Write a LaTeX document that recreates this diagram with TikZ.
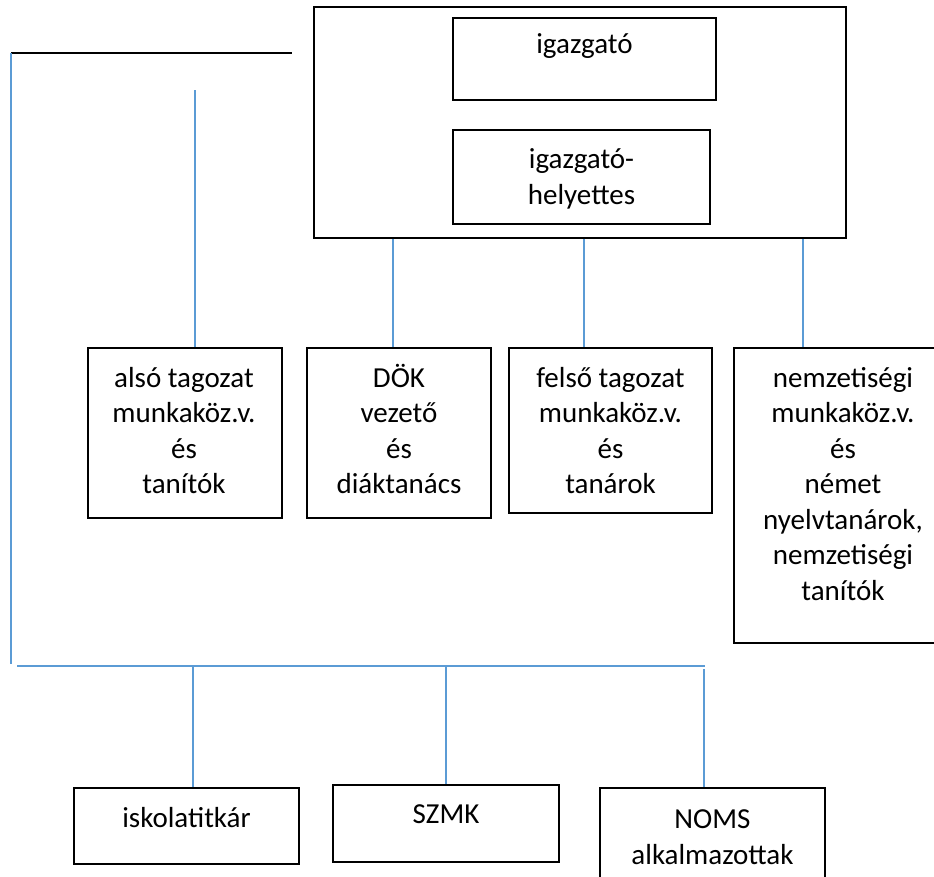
\documentclass[tikz,border=0pt]{standalone}
\usepackage{fontspec}
\setmainfont{Carlito}
\definecolor{linkblue}{RGB}{91,155,213}
\usetikzlibrary{calc}

\begin{document}
\begin{tikzpicture}[x=1pt,y=-1pt,
    box/.style={draw=black, line width=1.8pt, inner sep=0pt},
    txt/.style={anchor=base, align=center, inner sep=0pt,
      font=\fontsize{29}{35.5}\selectfont},
    link/.style={draw=linkblue, line width=1.6pt}]
  \useasboundingbox (0,0) rectangle (934,876);
  \clip (0,0) rectangle (934,876);

  % vezetes (txt nodes sit on the baseline of their last line)
  \node[box, minimum width=532, minimum height=231] (vez) at (580,122.5) {};
  \node[box, minimum width=263, minimum height=82] (igazg) at (584.5,59) {};
  \node[txt] (igazgt) at (584.5,53) {igazgató};
  \node[box, minimum width=257, minimum height=94] (helyt) at (581.5,177) {};
  \node[txt] (helytt) at (581.5,204) {igazgató-\\helyettes};

  % kozepso sor
  \node[box, minimum width=194, minimum height=170] (also) at (185,433) {};
  \node[txt] (alsot) at (184,493.5) {alsó tagozat\\munkaköz.v.\\és\\tanítók};
  \node[box, minimum width=184, minimum height=170] (dok) at (399,433) {};
  \node[txt] (dokt) at (399,493.5) {DÖK\\vezető\\és\\diáktanács};
  \node[box, minimum width=203, minimum height=165] (felso) at (610.5,430.5) {};
  \node[txt] (felsot) at (610.5,493.5) {felső tagozat\\munkaköz.v.\\és\\tanárok};
  \node[box, minimum width=218, minimum height=295] (nemz) at (843,495.5) {};
  \node[txt] (nemzt) at (843,600) {nemzetiségi\\munkaköz.v.\\és\\német\\nyelvtanárok,\\nemzetiségi\\tanítók};

  % also sor
  \node[box, minimum width=225, minimum height=76] (titkar) at (186.5,826) {};
  \node[txt] (titkart) at (186.5,827) {iskolatitkár};
  \node[box, minimum width=226, minimum height=77] (szmk) at (446,823.5) {};
  \node[txt] (szmkt) at (446,823) {SZMK};
  \node[box, minimum width=225, minimum height=112] (noms) at (712.5,844) {};
  \node[txt] (nomst) at (712.5,864) {NOMS\\alkalmazottak};

  % szabad vegpontok
  \coordinate (tl) at (11,53);
  \coordinate (tr) at (292,53);
  \coordinate (bl) at (11,664);
  \coordinate (brl) at (17,666);
  \coordinate (br) at (705,666);
  \coordinate (mid) at (195,90);

  \draw[line width=1.5pt] (tl) -- (tr);
  \draw[link] (tl) -- (bl);
  \draw[link] (brl) -- (br);
  \draw[link] (mid) -- (mid |- also.north);
  \draw[link] (vez.south -| 393,0) -- (dok.north -| 393,0);
  \draw[link] (vez.south -| 584,0) -- (felso.north -| 584,0);
  \draw[link] (vez.south -| 803,0) -- (nemz.north -| 803,0);
  \draw[link] (brl -| 193,0) -- (titkar.north -| 193,0);
  \draw[link] (brl -| szmk.north) -- (szmk.north);
  \draw[link] (704,669) -- (noms.north -| 704,0);
\end{tikzpicture}
\end{document}
